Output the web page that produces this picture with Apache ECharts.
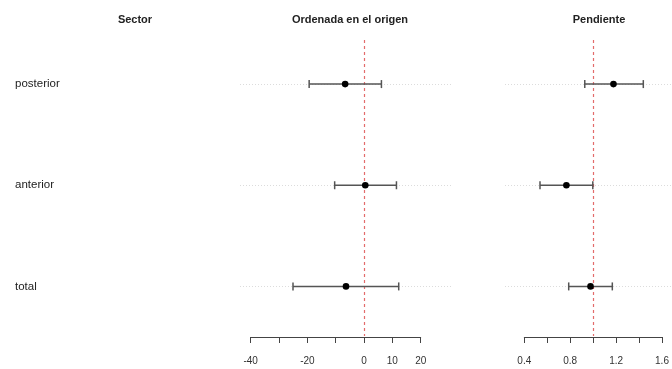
<!DOCTYPE html>
<html>
<head>
<meta charset="utf-8">
<script src="https://cdn.jsdelivr.net/npm/echarts@6/dist/echarts.min.js"></script>
<style>
  html, body { margin: 0; padding: 0; background: #fff; }
  #chart { width: 672px; height: 369px; }
</style>
</head>
<body>
<div id="chart"></div>
<script>
// Sectors, listed bottom to top as the category axis runs
const sectors = ['total', 'anterior', 'posterior'];

// Intercept estimates with their confidence limits
const interceptEst = [-6.4, 0.4, -6.7];
const interceptLow = [-25.1, -10.4, -19.4];
const interceptHigh = [12.2, 11.4, 6.1];

// Slope estimates with their confidence limits
const slopeEst = [0.98, 0.77, 1.18];
const slopeLow = [0.79, 0.54, 0.93];
const slopeHigh = [1.17, 1.0, 1.44];

// Reference values (no effect) for each panel
const interceptRef = 0;
const slopeRef = 1;

// Labelled ticks on each axis
const interceptTickLabels = [-40, -20, 0, 10, 20];
const slopeTickLabels = [0.4, 0.8, 1.2, 1.6];

const headers = ['Sector', 'Ordenada en el origen', 'Pendiente'];

const FONT = '"Liberation Sans", Arial, Helvetica, sans-serif';
const RED = '#e36b6b';

function rows(est, lo, hi) {
  return sectors.map((s, i) => [lo[i], hi[i], est[i], i]);
}

function errorBar(params, api) {
  const row = api.value(3);
  const a = api.coord([api.value(0), row]);
  const b = api.coord([api.value(1), row]);
  const c = api.coord([api.value(2), row]);
  const cap = 4;
  const style = { stroke: '#555', lineWidth: 1.5 };
  return {
    type: 'group',
    children: [
      { type: 'line', shape: { x1: a[0], y1: a[1], x2: b[0], y2: b[1] }, style },
      { type: 'line', shape: { x1: a[0], y1: a[1] - cap, x2: a[0], y2: a[1] + cap }, style },
      { type: 'line', shape: { x1: b[0], y1: b[1] - cap, x2: b[0], y2: b[1] + cap }, style },
      { type: 'circle', shape: { cx: c[0], cy: c[1], r: 3.3 }, style: { fill: '#000' } }
    ]
  };
}

// Faint dotted row guides plus the dashed red reference line
function refLines(ref) {
  const grey = { color: '#dcdcdc', type: [1, 2], width: 1 };
  return {
    silent: true,
    symbol: 'none',
    label: { show: false },
    lineStyle: { color: RED, type: [3, 3], width: 1.2 },
    data: [
      ...sectors.map(s => ({ yAxis: s, lineStyle: grey })),
      [
        { coord: [ref, 'posterior'], y: 40 },
        { coord: [ref, 'total'], y: 336 }
      ]
    ]
  };
}

function tickFormatter(list, digits) {
  return function (v) {
    const hit = list.some(t => Math.abs(t - v) < 1e-6);
    return hit ? (digits ? (+v).toFixed(digits) : String(Math.round(v))) : '';
  };
}

const plotTop = 33.5;
const plotHeight = 303.5;

const chart = echarts.init(document.getElementById('chart'), null, { renderer: 'canvas' });

const axisStyle = {
  axisLine: { show: true, lineStyle: { color: '#444', width: 1 } },
  axisTick: { show: true, length: 6, inside: false, lineStyle: { color: '#444', width: 1 } },
  splitLine: { show: false }
};

const headerStyle = { fontSize: 11, fontWeight: 'bold', color: '#222', fontFamily: FONT };

chart.setOption({
  animation: false,
  backgroundColor: '#fff',
  textStyle: { fontFamily: FONT },
  title: [
    { text: headers[0], left: 130, top: 9, textAlign: 'center', textStyle: headerStyle },
    { text: headers[1], left: 345, top: 9, textAlign: 'center', textStyle: headerStyle },
    { text: headers[2], left: 594, top: 9, textAlign: 'center', textStyle: headerStyle }
  ],
  grid: [
    // data areas
    { left: 240, width: 212, top: plotTop, height: plotHeight },
    { left: 505, width: 167, top: plotTop, height: plotHeight },
    // axis strips spanning only the labelled range
    { left: 250.7, width: 170, top: plotTop, height: plotHeight },
    { left: 524.3, width: 137.7, top: plotTop, height: plotHeight }
  ],
  xAxis: [
    { gridIndex: 0, type: 'value', min: -43.8, max: 31.0, show: false },
    { gridIndex: 1, type: 'value', min: 0.235, max: 1.69, show: false },
    Object.assign({
      gridIndex: 2, type: 'value', min: -40, max: 20, interval: 10, position: 'bottom',
      axisLabel: { show: true, margin: 19, fontSize: 10, color: '#333', fontFamily: FONT,
        showMinLabel: true, showMaxLabel: true, formatter: tickFormatter(interceptTickLabels, 0) }
    }, axisStyle),
    Object.assign({
      gridIndex: 3, type: 'value', min: 0.4, max: 1.6, interval: 0.2, position: 'bottom',
      axisLabel: { show: true, margin: 19, fontSize: 10, color: '#333', fontFamily: FONT,
        showMinLabel: true, showMaxLabel: true, formatter: tickFormatter(slopeTickLabels, 1) }
    }, axisStyle)
  ],
  yAxis: [
    {
      gridIndex: 0, type: 'category', data: sectors,
      axisLine: { show: false }, axisTick: { show: false }, splitLine: { show: false },
      axisLabel: { show: true, align: 'left', margin: 225, fontSize: 11.5, color: '#222', fontFamily: FONT }
    },
    { gridIndex: 1, type: 'category', data: sectors, show: false },
    { gridIndex: 2, type: 'value', min: 0, max: 1, show: false },
    { gridIndex: 3, type: 'value', min: 0, max: 1, show: false }
  ],
  series: [
    {
      type: 'custom', xAxisIndex: 0, yAxisIndex: 0, clip: false,
      data: rows(interceptEst, interceptLow, interceptHigh),
      renderItem: errorBar, z: 5,
      markLine: refLines(interceptRef)
    },
    {
      type: 'custom', xAxisIndex: 1, yAxisIndex: 1, clip: false,
      data: rows(slopeEst, slopeLow, slopeHigh),
      renderItem: errorBar, z: 5,
      markLine: refLines(slopeRef)
    }
  ]
});
</script>
</body>
</html>
